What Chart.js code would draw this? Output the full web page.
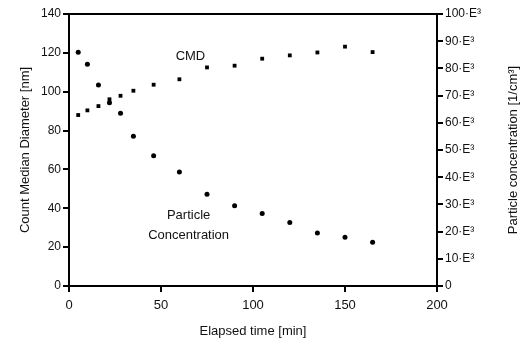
<!DOCTYPE html>
<html>
<head>
<meta charset="utf-8">
<script src="https://cdn.jsdelivr.net/npm/chart.js@4"></script>
<style>
  body { margin: 0; background: #fff; }
  #wrap { width: 520px; height: 343px; }
</style>
</head>
<body>
<div id="wrap"><canvas id="chart"></canvas></div>
<script>
// Data
const elapsedTime = [5, 10, 16, 22, 28, 35, 46, 60, 75, 90, 105, 120, 135, 150, 165];
const cmdValues = [88.0, 90.4, 92.6, 96.1, 97.9, 100.5, 103.6, 106.4, 112.5, 113.4, 117.0, 118.7, 120.2, 123.2, 120.4];
const particleValues = [85900, 81500, 73900, 67400, 63500, 55100, 47900, 41900, 33700, 29500, 26700, 23300, 19500, 17900, 16100];
const concTicks = [0, 10000, 20000, 30000, 40000, 50000, 60000, 70000, 80000, 90000, 100000];

// Text labels placed at data coordinates
const annotations = [
    { x: 66, y: 118, lines: ['CMD'] },
    { x: 65, y: 36.5, lines: ['Particle', 'Concentration'] }
];

const fontFamily = '"Liberation Sans", Arial, sans-serif';

const labelsPlugin = {
    id: 'labels',
    afterDatasetsDraw(chart) {
        const ctx = chart.ctx;
        const xs = chart.scales.x;
        const ys = chart.scales.y;
        const area = chart.chartArea;
        ctx.save();
        // top border of the frame
        ctx.strokeStyle = '#000';
        ctx.lineWidth = 2;
        ctx.beginPath();
        ctx.moveTo(area.left, area.top);
        ctx.lineTo(area.right, area.top);
        ctx.stroke();

        ctx.fillStyle = '#111';
        ctx.font = '13px ' + fontFamily;
        ctx.textAlign = 'center';
        ctx.textBaseline = 'middle';
        annotations.forEach(a => {
            const px = xs.getPixelForValue(a.x);
            const py = ys.getPixelForValue(a.y);
            a.lines.forEach((line, i) => {
                ctx.fillText(line, px, py + i * 20);
            });
        });

        // axis titles
        const midY = (area.top + area.bottom) / 2;
        ctx.save();
        ctx.translate(25, midY);
        ctx.rotate(-Math.PI / 2);
        ctx.fillText('Count Median Diameter [nm]', 0, 0);
        ctx.restore();
        ctx.save();
        ctx.translate(513, midY);
        ctx.rotate(-Math.PI / 2);
        ctx.fillText('Particle concentration [1/cm³]', 0, 0);
        ctx.restore();
        ctx.fillText('Elapsed time [min]', (area.left + area.right) / 2, 331);
        ctx.restore();
    }
};

function superLabel(v) {
    if (v === 0) return '0';
    return (v / 1000) + '·E³';
}

const ctx = document.getElementById('chart').getContext('2d');
const chart = new Chart(ctx, {
    type: 'scatter',
    data: {
        datasets: [
            {
                label: 'CMD',
                data: elapsedTime.map((t, i) => ({ x: t, y: cmdValues[i] })),
                yAxisID: 'y',
                pointStyle: 'rect',
                pointRadius: 2.7,
                backgroundColor: '#000',
                borderColor: '#000',
                borderWidth: 0
            },
            {
                label: 'Particle Concentration',
                data: elapsedTime.map((t, i) => ({ x: t, y: particleValues[i] })),
                yAxisID: 'y2',
                pointStyle: 'circle',
                pointRadius: 2.5,
                backgroundColor: '#000',
                borderColor: '#000',
                borderWidth: 0
            }
        ]
    },
    options: {
        responsive: true,
        maintainAspectRatio: false,
        animation: false,
        layout: { padding: { top: 14, left: 0, right: 0, bottom: 0 } },
        plugins: {
            legend: { display: false },
            tooltip: { enabled: false }
        },
        scales: {
            x: {
                type: 'linear',
                min: 0,
                max: 200,
                ticks: { stepSize: 50, color: '#111', font: { family: fontFamily, size: 13 }, padding: 6 },
                grid: { drawOnChartArea: false, drawTicks: true, tickLength: 6, color: '#000', lineWidth: 2 },
                border: { display: true, color: '#000', width: 2 },
                afterFit: scale => { scale.height = 57; }
            },
            y: {
                position: 'left',
                min: 0,
                max: 140,
                ticks: { stepSize: 20, color: '#111', font: { family: fontFamily, size: 12 }, padding: 2 },
                grid: { drawOnChartArea: false, drawTicks: true, tickLength: 6, color: '#000', lineWidth: 2 },
                border: { display: true, color: '#000', width: 2 },
                afterFit: scale => { scale.width = 69; }
            },
            y2: {
                position: 'right',
                min: 0,
                max: 100000,
                afterBuildTicks: scale => { scale.ticks = concTicks.map(v => ({ value: v })); },
                ticks: { color: '#111', font: { family: fontFamily, size: 12 }, padding: 2, callback: v => superLabel(v) },
                grid: { drawOnChartArea: false, drawTicks: true, tickLength: 6, color: '#000', lineWidth: 2 },
                border: { display: true, color: '#000', width: 2 },
                afterFit: scale => { scale.width = 83; }
            }
        }
    },
    plugins: [labelsPlugin]
});
</script>
</body>
</html>
